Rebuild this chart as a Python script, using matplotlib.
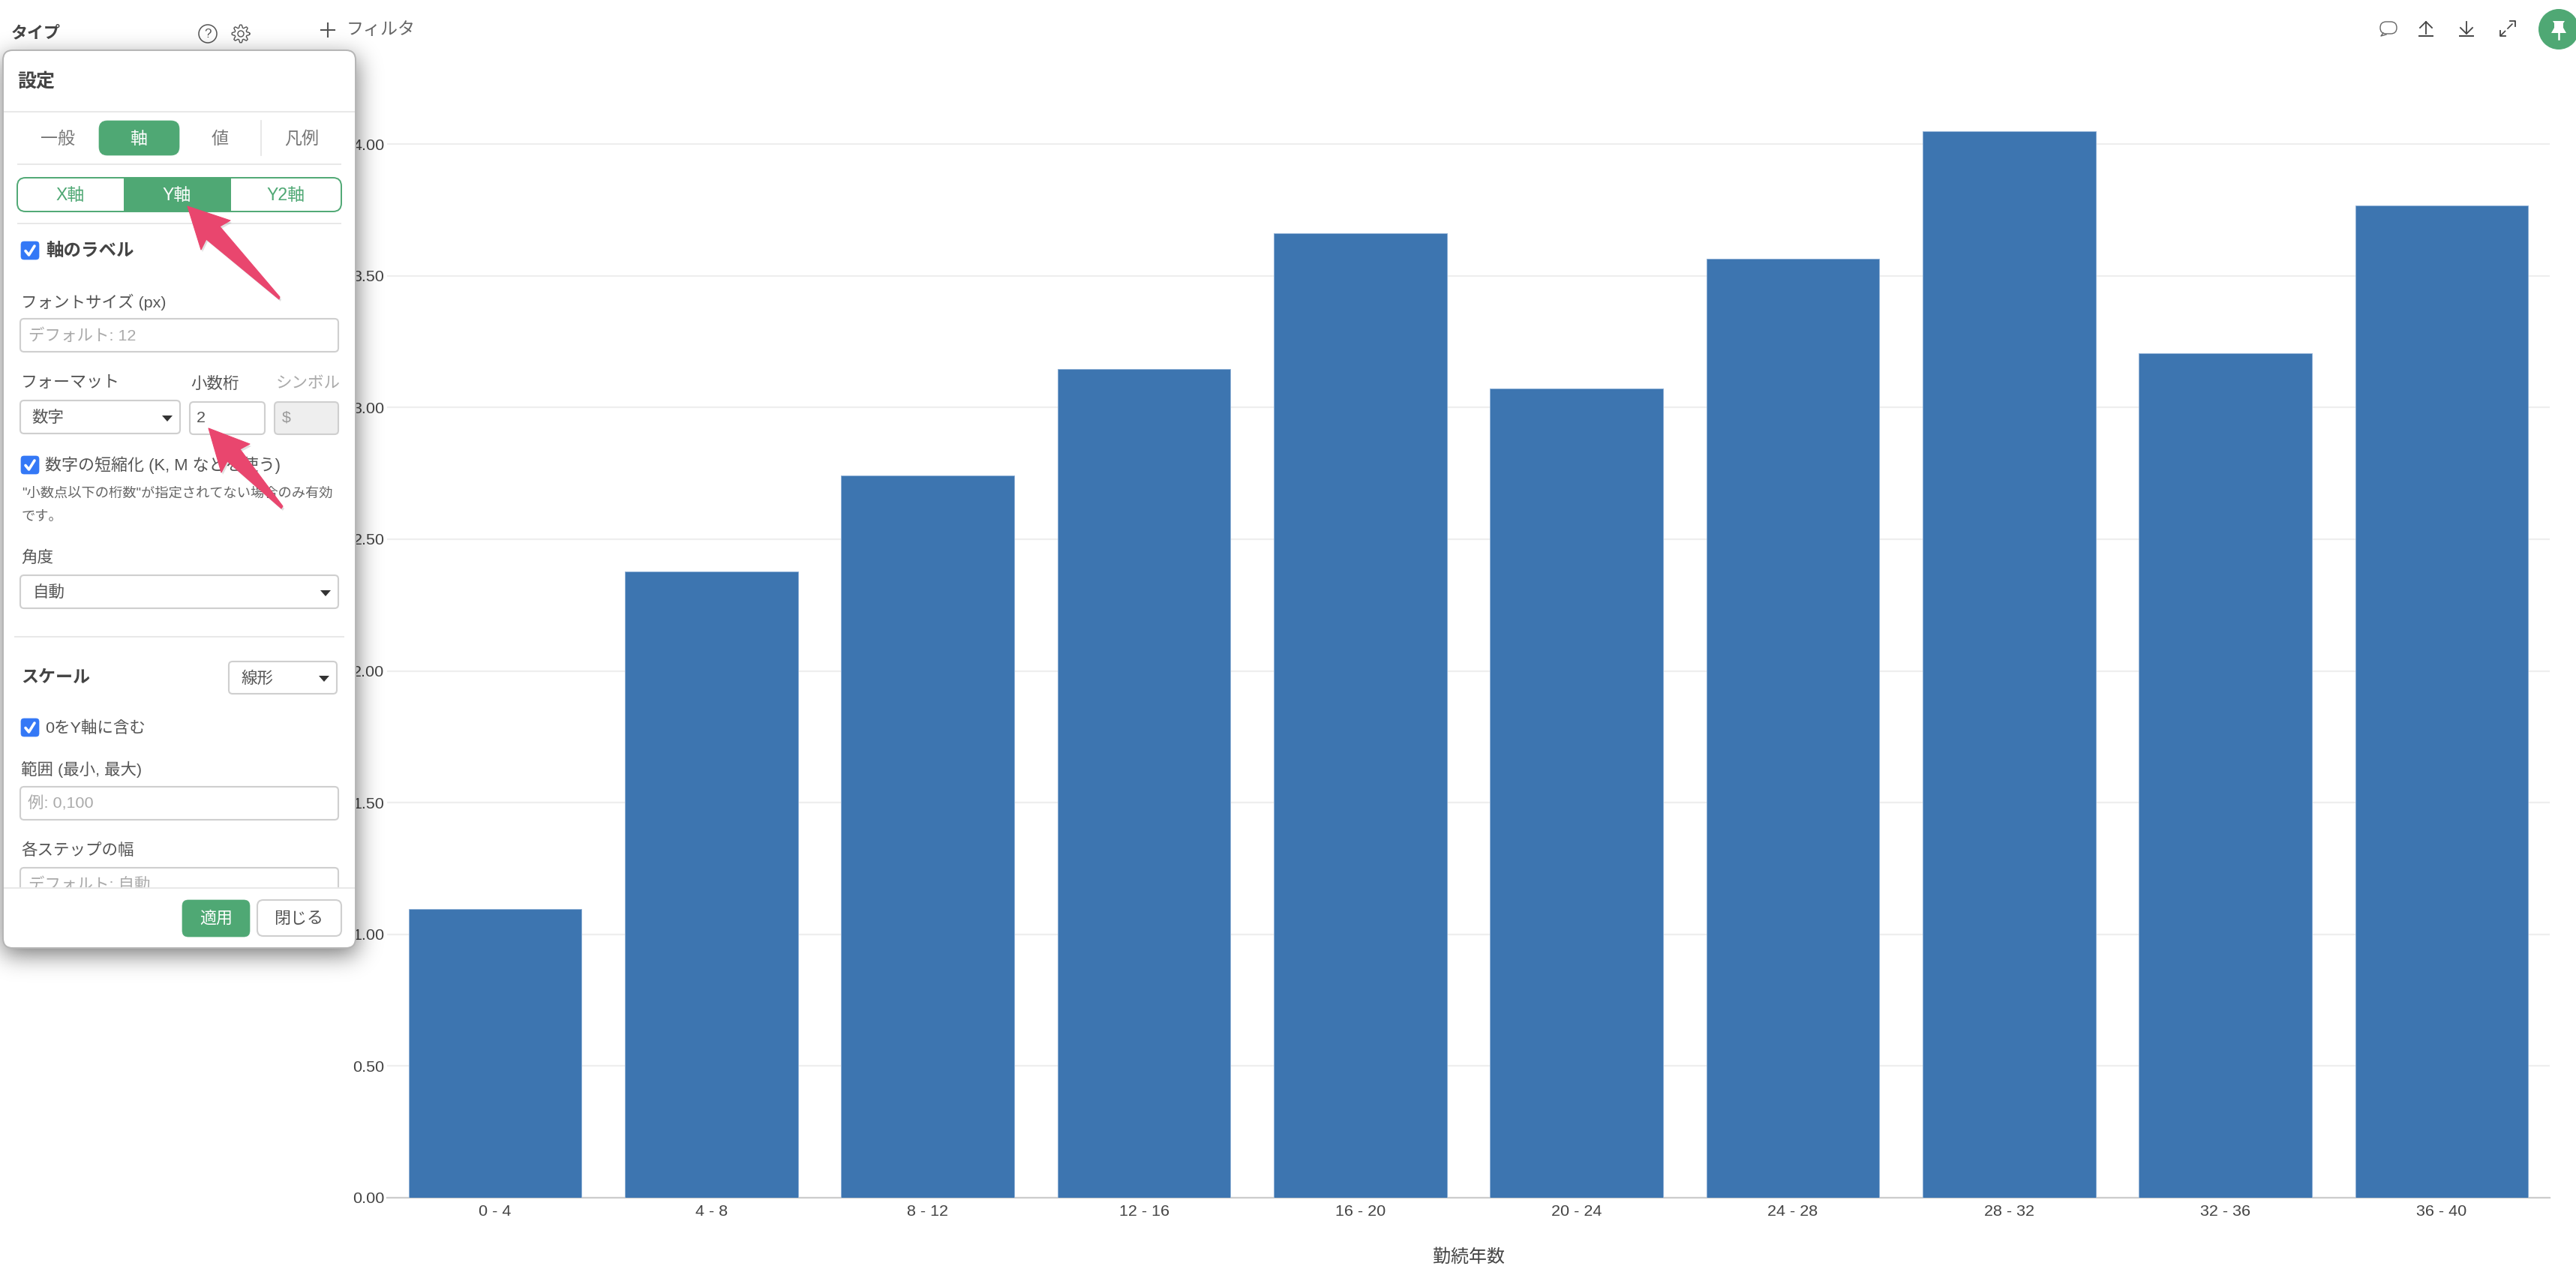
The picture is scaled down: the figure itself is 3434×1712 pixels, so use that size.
"""Bar chart of tenure bands with the settings panel of the app on top."""
import math
import numpy as np
import matplotlib
matplotlib.use('Agg')
import matplotlib.pyplot as plt
from matplotlib.patches import FancyBboxPatch, Polygon, Circle, Rectangle

plt.rcParams['font.family'] = ['Liberation Sans', 'Noto Sans CJK JP']

categories = ['0 - 4', '4 - 8', '8 - 12', '12 - 16', '16 - 20',
              '20 - 24', '24 - 28', '28 - 32', '32 - 36', '36 - 40']
values = [1.096, 2.377, 2.742, 3.146, 3.662, 3.073, 3.565, 4.048, 3.206, 3.767]
y_ticks = [0, 0.5, 1, 1.5, 2, 2.5, 3, 3.5, 4]
x_title = '勤続年数'

W, H = 3434, 1712
C_BAR = '#3D75B0'
C_GREEN = '#4FA874'
C_PINK = '#E9466E'
C_TEXT = '#444444'
C_LABEL = '#555555'
C_BORDER = '#CFCFCF'
C_HINT = '#AAAAAA'
C_LINE = '#E8E8E8'
C_BLUE = '#3478F6'


def fs(px):
    return px * 0.72


fig = plt.figure(figsize=(W / 100, H / 100), dpi=100, facecolor='white')

# Chart
ax = fig.add_axes([516 / W, (H - 1597) / H, 2883 / W, 1457 / H])
ax.bar(range(len(values)), values, width=0.8, color=C_BAR,
       edgecolor='#8FB0D5', linewidth=0.7, zorder=3)
ax.set_xlim(-0.5, 9.5)
ax.set_ylim(0, 1457 / 351.2)
ax.set_xticks(range(len(categories)))
ax.set_xticklabels(categories)
ax.set_yticks(y_ticks)
ax.set_yticklabels([f'{v:.2f}' for v in y_ticks])
ax.tick_params(axis='x', length=0, pad=6.5, labelsize=fs(21.5), labelcolor=C_TEXT)
ax.tick_params(axis='y', length=0, pad=2.5, labelsize=fs(21.5), labelcolor=C_TEXT)
ax.grid(axis='y', color='#EEEEEE', linewidth=1.6, zorder=0)
ax.set_axisbelow(True)
for s in ['top', 'right', 'left']:
    ax.spines[s].set_visible(False)
ax.spines['bottom'].set_color('#CCCCCC')
ax.spines['bottom'].set_linewidth(1.6)
ax.spines['bottom'].set_zorder(2)

# Overlay in image pixels for the app chrome
ui = fig.add_axes([0, 0, 1, 1], facecolor='none')
ui.set_axis_off()


def txt(x, y, s, size=22, color=C_LABEL, ha='left', weight='normal', z=10, **kw):
    return ui.text(x, y + 1.5, s, fontsize=fs(size), color=color, ha=ha, va='center',
                   fontweight=weight, zorder=z, **kw)


def box(x0, y0, x1, y1, face='white', edge=C_BORDER, r=5, lw=1.5, z=6):
    p = FancyBboxPatch((x0 + r, y0 + r), x1 - x0 - 2 * r, y1 - y0 - 2 * r,
                       boxstyle=f'round,pad={r},rounding_size={r}',
                       facecolor=face, edgecolor=edge, linewidth=lw, zorder=z)
    ui.add_patch(p)
    return p


def hline(x0, x1, y, color=C_LINE, lw=2, z=7):
    ui.plot([x0, x1], [y, y], color=color, linewidth=lw * 0.72, zorder=z,
            solid_capstyle='butt')


def caret(x, y):
    ui.add_patch(Polygon([(x - 7, y - 4), (x + 7, y - 4), (x, y + 4)],
                         closed=True, facecolor='#333333', edgecolor='none', zorder=9))


def checkbox(x, y):
    box(x, y, x + 24, y + 24, face=C_BLUE, edge=C_BLUE, r=4, lw=0.5, z=8)
    ui.plot([x + 6, x + 10.5, x + 18], [y + 12.5, y + 18, y + 6], color='white',
            linewidth=2.6, zorder=9, solid_capstyle='round', solid_joinstyle='round')


erf = np.vectorize(math.erf)


def panel_shadow(x0, y0, x1, y1, sigma, strength):
    xs = np.arange(0, 620)
    ys = np.arange(0, 1400)
    sx = 0.5 * (erf((xs - x0) / sigma) - erf((xs - x1) / sigma))
    sy = 0.5 * (erf((ys - y0) / sigma) - erf((ys - y1) / sigma))
    rgba = np.zeros((len(ys), len(xs), 4))
    rgba[..., 3] = np.outer(sy, sx) * strength
    ui.imshow(rgba, extent=(0, 620, 1400, 0), aspect='auto', zorder=4,
              interpolation='bilinear')


# Top bar, left
txt(15, 43, 'タイプ', 22, '#444444', weight='bold')
ui.add_patch(Circle((277, 45), 12, facecolor='none', edgecolor='#555555', linewidth=1.1, zorder=3))
txt(277, 44, '?', 17, '#555555', ha='center', z=3)
angles = np.linspace(0, 2 * np.pi, 65)
gear_r = 10 + 1.8 * np.clip(np.cos(8 * angles) * 2, -1, 1)
ui.plot(321 + gear_r * np.cos(angles), 45 + gear_r * np.sin(angles), color='#555555',
        linewidth=1.0, zorder=3)
ui.add_patch(Circle((321, 45), 4, facecolor='none', edgecolor='#555555', linewidth=1.0, zorder=3))
ui.plot([428, 446], [40, 40], color='#555555', linewidth=1.5, zorder=3)
ui.plot([437, 437], [31, 49], color='#555555', linewidth=1.5, zorder=3)
txt(462, 38, 'フィルタ', 23, '#666666', z=3)

# Top bar, right
ui.add_patch(FancyBboxPatch((3175, 31), 18, 12, boxstyle='round,pad=2,rounding_size=8',
                            facecolor='none', edgecolor='#666666', linewidth=1))
ui.plot([3177, 3174, 3181], [44, 48, 46], color='#666666', linewidth=1)
for cx, up in [(3234, True), (3288, False)]:
    tip, tail = (29, 45) if up else (45, 29)
    ui.plot([cx, cx], [tip, tail], color='#444444', linewidth=1.3)
    d = 8 if up else -8
    ui.plot([cx - 8, cx, cx + 8], [tip + d, tip, tip + d], color='#444444', linewidth=1.3)
    ui.plot([cx - 9, cx + 9], [48, 48], color='#444444', linewidth=1.4)
ui.plot([3333, 3353], [48, 28], color='#444444', linewidth=1.2, linestyle=(0, (6, 2)))
ui.plot([3333, 3333, 3340], [41, 48, 48], color='#444444', linewidth=1.3)
ui.plot([3346, 3353, 3353], [28, 28, 35], color='#444444', linewidth=1.3)
ui.add_patch(Circle((3411, 39), 27, facecolor=C_GREEN, edgecolor='none'))
ui.add_patch(Polygon([(3403, 28), (3419, 28), (3417, 31), (3417, 37), (3421, 44), (3401, 44),
                      (3405, 37), (3405, 31)], closed=True, facecolor='white', edgecolor='none'))
ui.plot([3411, 3411], [44, 52], color='white', linewidth=1.8)

# Settings panel
panel_shadow(4, 76, 474, 1272, 22, 0.55)
box(4, 67, 474, 1264, face='white', edge='#B5B5B5', r=13, lw=1.4, z=5)
txt(23, 107, '設定', 25, '#444444', weight='bold')
hline(5, 473, 149)

tab_names = ['一般', '軸', '値', '凡例']
tab_x = [77, 185, 293, 402]
box(132, 161, 239, 207, face=C_GREEN, edge=C_GREEN, r=11, lw=0.5)
for name, x in zip(tab_names, tab_x):
    txt(x, 184, name, 23, 'white' if name == '軸' else '#777777', ha='center')
ui.plot([348, 348], [161, 207], color=C_LINE, linewidth=1.4, zorder=7)
hline(23, 455, 219)

# X / Y / Y2 switch
box(23, 237, 455, 282, face='white', edge=C_GREEN, r=11, lw=1.4)
ui.add_patch(Rectangle((165, 237), 143, 45, facecolor=C_GREEN, edgecolor='none', zorder=7))
txt(94, 259, 'X軸', 23, C_GREEN, ha='center')
txt(236, 259, 'Y軸', 23, 'white', ha='center')
txt(381, 259, 'Y2軸', 23, C_GREEN, ha='center')
hline(23, 455, 298)

checkbox(28, 322)
txt(61, 333, '軸のラベル', 23.5, '#444444', weight='bold')
txt(28, 401, 'フォントサイズ (px)', 21.5)
box(27, 425, 451, 469)
txt(38, 446, 'デフォルト: 12', 21.5, C_HINT)

txt(28, 509, 'フォーマット', 22)
txt(254, 510, '小数桁', 21.5)
txt(368, 510, 'シンボル', 21.5, C_HINT)
box(27, 534, 240, 578)
txt(42, 555, '数字', 21.5)
caret(223, 558)
box(253, 536, 353, 579)
txt(262, 556, '2', 21.5)
box(366, 536, 451, 579, face='#EEEEEE')
txt(376, 556, '$', 21.5, '#999999')

checkbox(28, 608)
txt(60, 619, '数字の短縮化 (K, M などを使う)', 22)
txt(29, 657, '"小数点以下の桁数"が指定されてない場合のみ有効', 18.3, '#666666')
txt(29, 688, 'です。', 18.3, '#666666')

txt(28, 742, '角度', 21.5)
box(27, 767, 451, 811)
txt(43, 789, '自動', 21.5)
caret(434, 791)
hline(19, 459, 849)

txt(28, 902, 'スケール', 23, '#444444', weight='bold')
box(305, 882, 449, 925)
txt(321, 903, '線形', 21.5)
caret(432, 905)
checkbox(28, 958)
txt(60, 969, '0をY軸に含む', 21.5)
txt(28, 1024, '範囲 (最小, 最大)', 21.5)
box(27, 1049, 451, 1093)
txt(37, 1070, '例: 0,100', 21.5, C_HINT)
txt(28, 1132, '各ステップの幅', 21.5)
box(27, 1157, 451, 1215)
txt(38, 1178, 'デフォルト: 自動', 21.5, C_HINT)

# Footer hides what scrolls below it
ui.add_patch(Rectangle((5.5, 1184), 467, 68, facecolor='white', edgecolor='none', zorder=11))
hline(5, 473, 1184, z=12)
box(243, 1200, 333, 1249, face=C_GREEN, edge=C_GREEN, r=8, lw=0.5, z=12)
txt(288, 1224, '適用', 22, 'white', ha='center', z=13)
box(343, 1200, 455, 1248, face='white', edge=C_BORDER, r=8, z=12)
txt(398, 1224, '閉じる', 22, '#555555', ha='center', z=13)

# Callout arrows
arrow_1 = [(250, 275), (307, 294), (293, 302), (373, 396), (372, 399), (275, 319), (268, 333)]
arrow_2 = [(278, 571), (333, 592), (320, 599), (377, 675), (375, 678), (303, 615), (295, 630)]
for pts in (arrow_1, arrow_2):
    shadow = [(px + 2, py + 3) for px, py in pts]
    ui.add_patch(Polygon(shadow, closed=True, facecolor='#000000', alpha=0.12,
                         edgecolor='none', zorder=14))
    ui.add_patch(Polygon(pts, closed=True, facecolor=C_PINK, edgecolor=C_PINK,
                         linewidth=0.8, joinstyle='round', zorder=15))

txt(1958, 1675, x_title, 24, C_TEXT, ha='center')

ui.set_xlim(0, W)
ui.set_ylim(H, 0)

fig.savefig('out.png', dpi=100, facecolor='white')
plt.close(fig)
